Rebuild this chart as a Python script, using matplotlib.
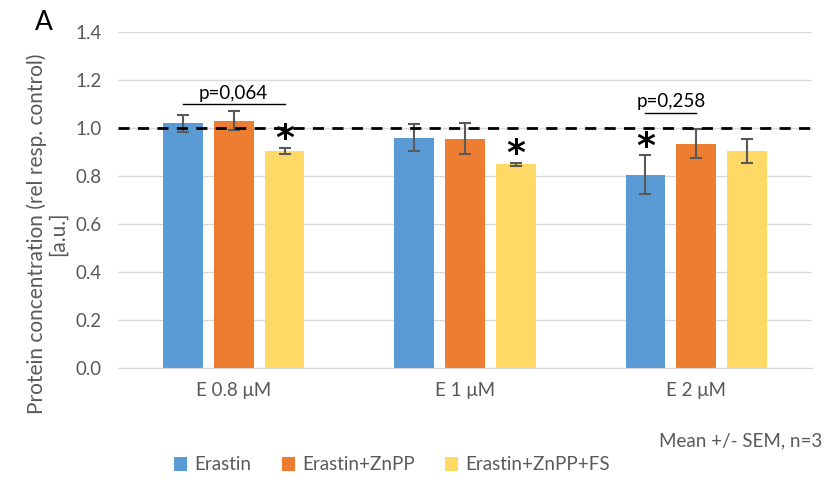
import numpy as np
import matplotlib
matplotlib.use('Agg')
import matplotlib.pyplot as plt

# data
groups = ['E 0.8 \u03bcM', 'E 1 \u03bcM', 'E 2 \u03bcM']
series = ['Erastin', 'Erastin+ZnPP', 'Erastin+ZnPP+FS']
colors = ['#5B9BD5', '#ED7D31', '#FFD966']
means = [
    [1.02, 0.96, 0.805],   # Erastin
    [1.03, 0.955, 0.935],  # Erastin+ZnPP
    [0.905, 0.848, 0.905], # Erastin+ZnPP+FS
]
sems = [
    [0.036, 0.055, 0.082],
    [0.040, 0.065, 0.060],
    [0.012, 0.006, 0.050],
]
# asterisks: (series index, group index)
stars = [(2, 0), (2, 1), (0, 2)]
# p-value brackets: (group, first series, second series, height, label)
brackets = [(0, 0, 2, 1.10, 'p=0,064'), (2, 0, 1, 1.063, 'p=0,258')]

plt.rcParams['font.family'] = ['Lato', 'DejaVu Sans']
gray = '#595959'

fig = plt.figure(figsize=(8.31, 4.84), dpi=100)
ax = fig.add_axes([118/831, (484-368)/484, (812-118)/831, (368-32)/484])

x = np.arange(len(groups)) + 0.5
step = 0.22
width = 0.172
for i, s in enumerate(series):
    xs = x + (i - 1) * step
    ax.bar(xs, means[i], width, color=colors[i], label=s, zorder=2)
    ax.errorbar(xs, means[i], yerr=sems[i], fmt='none', ecolor=gray,
                elinewidth=1.5, capsize=4, capthick=1.5, zorder=3)

for si, gi in stars:
    xs = x[gi] + (si - 1) * step
    ax.text(xs, means[si][gi] + sems[si][gi] - 0.035, '*', ha='center', va='bottom',
            fontsize=26, fontweight='bold', color='black', family='DejaVu Sans', zorder=4)

for gi, a, b, h, lab in brackets:
    x0 = x[gi] + (a - 1) * step
    x1 = x[gi] + (b - 1) * step
    ax.plot([x0, x1], [h, h], color='black', lw=1, zorder=4)
    ax.text((x0 + x1) / 2, h + 0.01, lab, ha='center', va='bottom', fontsize=13.5, color='black')

ax.axhline(1.0, color='black', ls=(0, (4, 3)), lw=2, zorder=4)

ax.set_xlim(0, 3)
ax.set_ylim(0, 1.4)
ax.set_yticks(np.arange(0, 1.41, 0.2))
ax.set_yticklabels([f'{v:.1f}' for v in np.arange(0, 1.41, 0.2)])
ax.set_xticks(x)
ax.set_xticklabels(groups)
ax.yaxis.grid(True, color='#D9D9D9', lw=1, zorder=0)
ax.set_axisbelow(True)
for sp in ax.spines.values():
    sp.set_visible(False)
ax.spines['bottom'].set_visible(True)
ax.spines['bottom'].set_color('#D9D9D9')
ax.tick_params(axis='both', length=0, labelsize=13.5, colors=gray, pad=12)
ax.tick_params(axis='x', pad=10)

ax.set_ylabel('Protein concentration (rel resp. control)\n[a.u.]', fontsize=15, color=gray,
              linespacing=1.05)
ax.yaxis.set_label_coords(-0.072, 0.40)

fig.text(44/831, 1 - 22/484, 'A', fontsize=19, color='black', va='center', ha='center')
fig.text(822/831, 1 - 441/484, 'Mean +/- SEM, n=3', fontsize=13.5, color=gray, ha='right', va='center')

fig.legend(loc='center', bbox_to_anchor=(392/831, 1 - 465/484), ncol=3, frameon=False,
           fontsize=13.5, labelcolor=gray, handlelength=0.7, handleheight=0.7,
           handletextpad=0.4, columnspacing=1.6)

fig.savefig('out.png', dpi=100)
